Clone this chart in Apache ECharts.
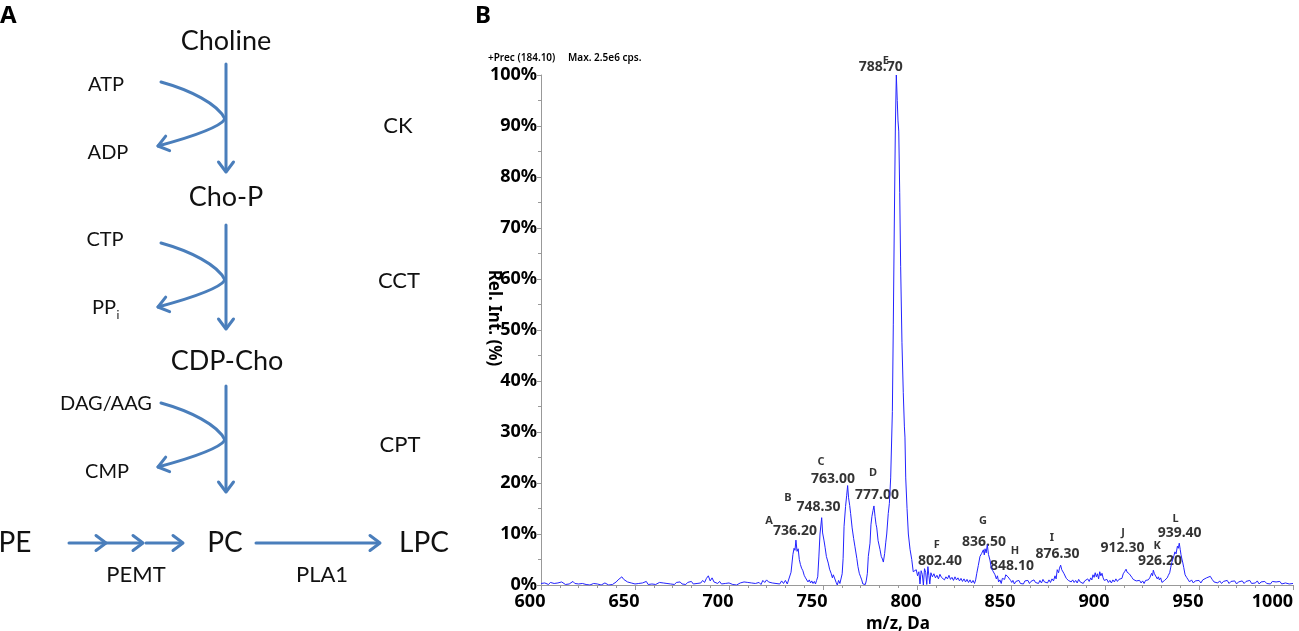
<!DOCTYPE html>
<html>
<head>
<meta charset="utf-8">
<title>PC synthesis and precursor ion spectrum</title>
<script src="https://cdn.jsdelivr.net/npm/echarts@6/dist/echarts.min.js"></script>
<style>
  html, body { margin: 0; padding: 0; background: #fff; }
  #main { width: 1299px; height: 631px; }
</style>
</head>
<body>
<div id="main"></div>
<script>
// spectrum: [m/z, relative intensity %]
var spectrum = [
    [600,0.3],[601,0.1],[602,0.4],[603,0.2],[604,0.1],[605,0.5],[606,0.2],[607,0.3],[608,0.1],[609,0.4],
    [610,0.2],[611,0.6],[612,0.3],[613,0.1],[614,0.4],[615,0.2],[616,0.5],[617,0.7],[618,0.3],[619,0.6],
    [620,0.2],[621,0.1],[622,0.3],[623,0.0],[624,0.1],[625,0.2],[626,0.0],[627,0.1],[628,0.3],[629,0.0],
    [630,0.2],[631,0.1],[632,0.0],[633,0.2],[634,0.4],[635,0.1],[636,0.0],[637,0.2],[638,0.1],[639,0.3],
    [640,0.6],[641,1.0],[642,0.7],[643,1.6],[644,1.1],[645,1.3],[646,0.6],[647,0.9],[648,0.4],[649,0.6],
    [650,0.2],[651,0.5],[652,0.3],[653,0.1],[654,0.4],[655,0.2],[656,0.7],[657,0.1],[658,0.3],[659,0.2],
    [660,0.4],[661,0.1],[662,0.3],[663,0.5],[664,0.2],[665,0.4],[666,0.1],[667,0.3],[668,0.6],[669,0.2],
    [670,0.4],[671,0.1],[672,0.5],[673,0.3],[674,0.6],[675,0.2],[676,0.4],[677,0.1],[678,0.5],[679,0.3],
    [680,0.7],[681,0.2],[682,0.5],[683,0.3],[684,0.6],[685,0.4],[686,0.9],[687,0.5],[688,1.3],[689,1.8],
    [690,0.8],[691,1.4],[692,0.6],[693,0.9],[694,0.3],[695,0.7],[696,0.2],[697,0.5],[698,0.3],[699,0.1],
    [700,0.4],[701,0.2],[702,0.1],[703,0.3],[704,0.0],[705,0.2],[706,0.4],[707,0.1],[708,0.6],[709,0.3],
    [710,0.5],[711,0.8],[712,0.4],[713,0.7],[714,0.3],[715,0.2],[716,0.5],[717,0.1],[718,0.9],[719,0.5],
    [720,1.0],[721,0.6],[722,0.9],[723,0.4],[724,0.7],[725,0.3],[726,0.5],[727,0.2],[728,0.8],[729,0.3],
    [730,0.9],[731,0.2],[732,0.4],[733,2.5],[734,6.0],[734.6,7.2],[735.1,6.8],[735.6,8.8],[736.2,6.6],
    [736.8,7.1],[737.4,5.0],[738,4.0],[738.6,3.3],[739.3,2.8],[740,1.9],[740.7,1.4],[741.4,1.7],[742,0.6],
    [742.7,1.0],[743.4,0.4],[744,0.8],[744.7,0.3],[745.4,0.7],[746,0.2],[746.6,0.9],[747.2,1.6],[747.8,5.5],
    [748.4,10.0],[749.3,13.2],[749.8,10.2],[750.5,8.8],[751.1,7.4],[751.8,5.6],[752.8,4.3],[753.5,3.1],
    [754.3,2.3],[755.0,1.4],[755.5,2.0],[756.3,1.8],[757.0,0.5],[757.6,0.0],[758.3,0.9],[759.0,0.3],
    [759.6,0.2],[760.2,2.2],[760.7,5.2],[761.2,11.5],[762.0,15.4],[762.6,17.6],[763.1,19.5],[763.6,17.1],
    [764.2,15.6],[764.7,14.0],[765.5,11.2],[766.3,9.1],[767.0,7.5],[768.0,5.2],[768.6,3.6],[769.3,2.3],
    [770.0,1.6],[770.6,1.0],[771.2,0.2],[771.8,0.5],[772.5,0.1],[773.0,0.8],[773.6,2.3],[774.1,5.6],
    [775.0,8.2],[775.5,11.8],[776.0,13.4],[776.6,14.6],[777.1,15.5],[777.7,13.4],[778.2,11.9],[778.6,11.2],
    [779.3,8.7],[780.3,7.0],[781.0,5.6],[781.6,5.1],[782.1,4.5],[782.8,6.2],[783.4,8.4],[783.9,10.0],
    [784.7,14.0],[785.3,16.0],[786.0,21.0],[786.9,34.0],[787.4,51.0],[787.9,70.0],[788.5,90.0],[789.0,100.0],
    [789.5,95.0],[789.9,91.0],[790.3,89.0],[790.8,77.0],[791.3,62.5],[792.0,47.5],[792.7,37.7],[793.3,31.0],
    [793.6,29.0],[794.0,21.0],[794.7,15.0],[795.4,10.0],[796.3,7.0],[797.2,5.0],[798.0,2.6],[798.9,2.3],
    [799.6,3.0],[800.3,1.8],[801.0,2.6],[801.6,0.2],[802.2,2.8],[802.8,2.1],[803.4,0.0],[804.0,3.2],
    [804.6,2.5],[805.2,0.1],[805.8,3.6],[806.3,1.9],[806.8,0.2],[807.4,2.4],[808.2,1.6],[809.0,2.2],
    [809.8,1.4],[810.6,1.9],[811.4,1.2],[812.2,2.1],[813.0,1.5],[813.8,1.8],[814.6,1.0],[815.4,1.6],
    [816.2,1.2],[817.0,1.9],[817.8,1.1],[818.6,1.5],[819.4,0.9],[820.2,1.6],[821.0,1.0],[821.8,1.4],
    [822.6,0.8],[823.4,1.3],[824.2,0.7],[825.0,1.2],[825.8,0.6],[826.6,1.1],[827.4,0.5],[828.2,1.0],
    [829.0,0.4],[829.8,0.9],[830.6,0.3],[831.2,1.0],[831.8,2.3],[832.6,3.8],[833.5,5.6],[834.4,6.2],
    [835.3,6.9],[835.8,5.9],[836.2,7.1],[836.8,6.3],[837.4,7.9],[838.0,6.0],[838.8,4.9],[839.5,3.4],
    [840.3,2.8],[841.0,2.5],[841.5,2.0],[842.2,1.2],[842.8,1.8],[843.4,0.6],[844.1,1.0],[844.8,0.3],
    [845.4,1.3],[845.9,1.6],[846.6,1.1],[847.2,2.0],[847.7,2.3],[848.4,1.6],[849.1,1.9],[849.8,0.9],
    [850.4,0.5],[851.0,0.9],[851.8,0.2],[852.6,0.7],[853.4,0.4],[854.2,0.9],[855.0,0.3],[855.8,0.6],
    [856.6,0.2],[857.4,0.8],[858.2,0.5],[859.0,0.9],[859.8,0.3],[860.6,0.7],[861.4,0.4],[862.2,1.0],
    [863.0,0.5],[863.8,0.8],[864.6,0.3],[865.4,0.9],[866.2,0.4],[867.0,1.1],[867.8,0.6],[868.6,0.9],
    [869.4,0.4],[870.2,1.0],[871.0,0.5],[871.8,1.2],[872.6,0.8],[873.4,1.8],[874.0,1.2],[874.6,3.0],
    [875.3,2.4],[875.8,3.3],[876.4,3.9],[877.0,3.0],[877.5,3.2],[878.1,2.3],[878.7,2.0],[879.4,1.3],
    [880.0,1.6],[880.5,0.9],[881.2,1.2],[882.0,0.6],[882.8,1.0],[883.6,0.5],[884.4,0.9],[885.2,0.4],
    [886.0,1.1],[886.8,0.6],[887.6,0.9],[888.4,0.3],[889.2,0.8],[890.0,0.5],[890.8,1.2],[891.6,0.7],
    [892.4,1.4],[893.0,1.0],[893.6,2.0],[894.2,1.5],[894.8,2.4],[895.4,1.6],[896.0,2.2],[896.6,1.2],
    [897.2,2.6],[897.8,1.8],[898.4,2.3],[899.0,1.4],[899.6,0.9],[900.2,0.6],[901.0,1.1],[901.8,0.5],
    [902.6,0.9],[903.4,0.4],[904.2,1.0],[905.0,0.6],[905.8,1.2],[906.6,0.7],[907.4,1.1],[908.2,0.8],
    [909.0,1.3],[909.7,2.2],[910.4,2.6],[911.2,3.1],[911.8,2.5],[912.4,2.8],[912.9,2.2],[913.6,1.9],
    [914.3,1.5],[915.0,1.1],[915.8,1.3],[916.6,0.8],[917.6,0.5],[918.4,0.9],[919.2,0.4],[920.0,0.8],
    [920.8,0.3],[921.6,0.9],[922.4,0.6],[923.0,1.0],[923.8,1.4],[924.8,2.3],[925.3,1.8],[925.7,2.9],
    [926.3,2.2],[927.1,2.0],[927.8,1.2],[928.4,1.6],[928.9,1.0],[929.6,1.4],[930.3,0.5],[931.0,0.2],
    [931.7,0.9],[932.4,0.6],[933.1,1.4],[933.7,1.9],[934.4,2.4],[935.0,3.5],[935.5,4.4],[936.2,5.2],
    [936.7,5.8],[937.2,6.5],[937.8,6.1],[938.5,7.6],[939.0,7.2],[939.5,8.2],[940.0,7.0],[940.4,6.0],
    [940.9,5.1],[941.3,4.5],[941.9,3.4],[942.6,2.0],[943.4,1.5],[944.3,1.0],[945,0.6],[946,1.0],
    [947,0.4],[948,0.8],[949,0.5],[950,0.9],[951,0.4],[952,1.0],[953,0.7],[954,1.4],[955,1.2],[956,1.7],
    [957,1.1],[958,0.6],[959,0.9],[960,0.4],[961,0.8],[962,0.3],[963,0.7],[964,0.5],[965,0.9],[966,0.3],
    [967,0.7],[968,0.4],[969,0.8],[970,0.2],[971,0.6],[972,0.4],[973,0.8],[974,0.3],[975,0.7],[976,0.5],
    [977,0.9],[978,0.3],[979,0.6],[980,0.4],[981,0.8],[982,0.2],[983,0.6],[984,0.4],[985,0.7],[986,0.3],
    [987,0.6],[988,0.2],[989,0.7],[990,0.4],[991,0.6],[992,0.3],[993,0.7],[994,0.2],[995,0.5],[996,0.4],
    [997,0.6],[998,0.2],[999,0.5],[1000,0.3]
];

// peak annotations
var peakLetters = ['A', 'B', 'C', 'D', 'E', 'F', 'G', 'H', 'I', 'J', 'K', 'L'];
var peakMz = ['736.20', '748.30', '763.00', '777.00', '788.70', '802.40', '836.50', '848.10', '876.30', '912.30', '926.20', '939.40'];
// where the annotations sit, in m/z and %
var letterAt = [[721.3,12.6],[731.4,17.1],[748.9,24.2],[776.6,22.0],[783.4,102.8],[810.5,7.9],[835.1,12.6],[852.1,6.7],[871.8,9.2],[909.6,10.2],[927.7,7.7],[937.6,13.0]];
var mzTextAt = [[735.1,10.6],[747.6,15.3],[755.3,20.8],[778.7,17.7],[780.7,101.6],[812.2,4.7],[835.6,8.4],[850.5,3.7],[874.7,6.1],[909.3,7.3],[929.3,4.7],[939.7,10.2]];

var fontB = '"Noto Sans", "Open Sans", sans-serif';
var fontA = 'Lato, "Open Sans", sans-serif';
var blue = '#4a7ebb';

// ---- panel A: pathway drawn with graphic elements ----
function arrowHead(x, y, dx, dy) {
    var len = Math.sqrt(dx * dx + dy * dy), ux = dx / len, uy = dy / len, s = 10, w = 7.5;
    return {
        type: 'polyline',
        shape: {points: [[x - ux * s - uy * w, y - uy * s + ux * w], [x, y], [x - ux * s + uy * w, y - uy * s - ux * w]]},
        style: {stroke: blue, lineWidth: 3, fill: null, lineJoin: 'round', lineCap: 'round'}
    };
}
function seg(x1, y1, x2, y2) {
    return {type: 'line', shape: {x1: x1, y1: y1, x2: x2, y2: y2}, style: {stroke: blue, lineWidth: 3, lineCap: 'round'}};
}
function txt(s, x, y, size, align) {
    return {type: 'text', x: x, y: y, style: {text: s, font: size + 'px ' + fontA, fill: '#111', align: align || 'center', verticalAlign: 'middle'}};
}
function sideArrow(v) {
    return [
        {type: 'bezierCurve', shape: {x1: 161, y1: v - 37, cpx1: 190, cpy1: v - 29, cpx2: 218, cpy2: v - 15, x2: 225, y2: v},
            style: {stroke: blue, lineWidth: 3, fill: null, lineCap: 'round'}},
        {type: 'bezierCurve', shape: {x1: 225, y1: v, cpx1: 220, cpy1: v + 8, cpx2: 195, cpy2: v + 17, x2: 158, y2: v + 27},
            style: {stroke: blue, lineWidth: 3, fill: null, lineCap: 'round'}},
        arrowHead(158, v + 27, -37, 10)
    ];
}

var pathway = [].concat(
    [txt('Choline', 226, 41, 27), txt('Cho-P', 226, 197, 27), txt('CDP-Cho', 227, 361, 27)],
    [seg(226, 64, 226, 171), arrowHead(226, 172, 0, 1)],
    [seg(226, 225, 226, 328), arrowHead(226, 329, 0, 1)],
    [seg(226, 386, 226, 491), arrowHead(226, 492, 0, 1)],
    sideArrow(119), sideArrow(280), sideArrow(440),
    [txt('ATP', 106, 85, 20), txt('ADP', 108, 153, 20), txt('CK', 398, 126, 22)],
    [txt('CTP', 105, 240, 20), txt('PP', 104, 308, 20), txt('i', 118, 315, 12), txt('CCT', 399, 281, 22)],
    [txt('DAG/AAG', 106, 404, 20), txt('CMP', 107, 472, 20), txt('CPT', 400, 445, 22)],
    [txt('PE', 15, 543, 28), txt('PC', 225, 543, 28), txt('LPC', 424, 543, 28),
        txt('PEMT', 136, 575, 22), txt('PLA1', 322, 575, 22)],
    [seg(69, 543, 105, 543), arrowHead(106, 543, 1, 0),
        seg(106, 543, 142, 543), arrowHead(143, 543, 1, 0),
        seg(146, 543, 182, 543), arrowHead(183, 543, 1, 0),
        seg(256, 543, 379, 543), arrowHead(380, 543, 1, 0)]
);

var tickFont = {fontFamily: fontB, fontWeight: 'bold', fontSize: 18, color: '#000'};

var chart = echarts.init(document.getElementById('main'));

chart.setOption({
    backgroundColor: '#fff',
    animation: false,
    grid: {left: 541, right: 6, top: 75, bottom: 46, containLabel: false, outerBoundsMode: 'none'},
    xAxis: {
        type: 'value', min: 600, max: 1000, interval: 50,
        name: 'm/z, Da', nameLocation: 'middle', nameGap: 27,
        nameTextStyle: {fontFamily: fontB, fontWeight: 'bold', fontSize: 17, color: '#000', padding: [0, 38, 0, 0]},
        axisLine: {lineStyle: {color: '#999', width: 1}},
        axisTick: {length: 5, lineStyle: {color: '#999'}},
        minorTick: {show: true, splitNumber: 5, length: 3, lineStyle: {color: '#999'}},
        axisLabel: {
            // labels sit a little left of their ticks, the last one flush right
            formatter: function (v) { return v === 1000 ? '{m|' + v + '}' : '{n|' + v + '}'; },
            alignMaxLabel: 'right',
            margin: 8,
            rich: {
                n: Object.assign({padding: [0, 22, 0, 0]}, tickFont),
                m: Object.assign({padding: [0, 0, 0, 0]}, tickFont)
            }
        },
        splitLine: {show: false}
    },
    yAxis: {
        type: 'value', min: 0, max: 100, interval: 10,
        axisLine: {show: true, lineStyle: {color: '#999', width: 1}},
        axisTick: {show: true, length: 4, lineStyle: {color: '#999'}},
        minorTick: {show: true, splitNumber: 2, length: 3, lineStyle: {color: '#999'}},
        axisLabel: Object.assign({formatter: '{value}%', margin: 4}, tickFont),
        splitLine: {show: false}
    },
    graphic: [
        {type: 'text', x: 0, y: 4, style: {text: 'A', font: 'bold 24px ' + fontB, fill: '#000'}},
        {type: 'text', x: 475, y: 4, style: {text: 'B', font: 'bold 24px ' + fontB, fill: '#000'}},
        {type: 'text', x: 488, y: 58, style: {text: '+Prec (184.10)', font: '600 10px ' + fontB, fill: '#000', verticalAlign: 'middle'}},
        {type: 'text', x: 568, y: 58, style: {text: 'Max. 2.5e6 cps.', font: '600 10px ' + fontB, fill: '#000', verticalAlign: 'middle'}},
        {type: 'text', x: 494, y: 318, rotation: -Math.PI / 2,
            style: {text: 'Rel. Int. (%)', font: 'bold 17px ' + fontB, fill: '#000', align: 'center', verticalAlign: 'middle'}},
        {type: 'group', children: pathway}
    ],
    series: [
        {
            name: 'Precursor ion scan', type: 'line', data: spectrum,
            showSymbol: false, symbol: 'none',
            lineStyle: {color: '#2323ff', width: 1}
        },
        {
            name: 'Peak letter', type: 'scatter', symbolSize: 0, clip: false, silent: true,
            data: peakLetters.map(function (l, i) { return {name: l, value: letterAt[i]}; }),
            label: {show: true, position: 'inside', formatter: '{b}', fontFamily: fontB, fontWeight: 'bold', fontSize: 11,
                color: '#000', textBorderWidth: 0}
        },
        {
            name: 'Peak m/z', type: 'scatter', symbolSize: 0, clip: false, silent: true,
            data: peakMz.map(function (m, i) { return {name: m, value: mzTextAt[i]}; }),
            label: {show: true, position: 'inside', formatter: '{b}', fontFamily: fontB, fontWeight: 'bold', fontSize: 14,
                color: '#000', textBorderWidth: 0}
        }
    ]
});
</script>
</body>
</html>
